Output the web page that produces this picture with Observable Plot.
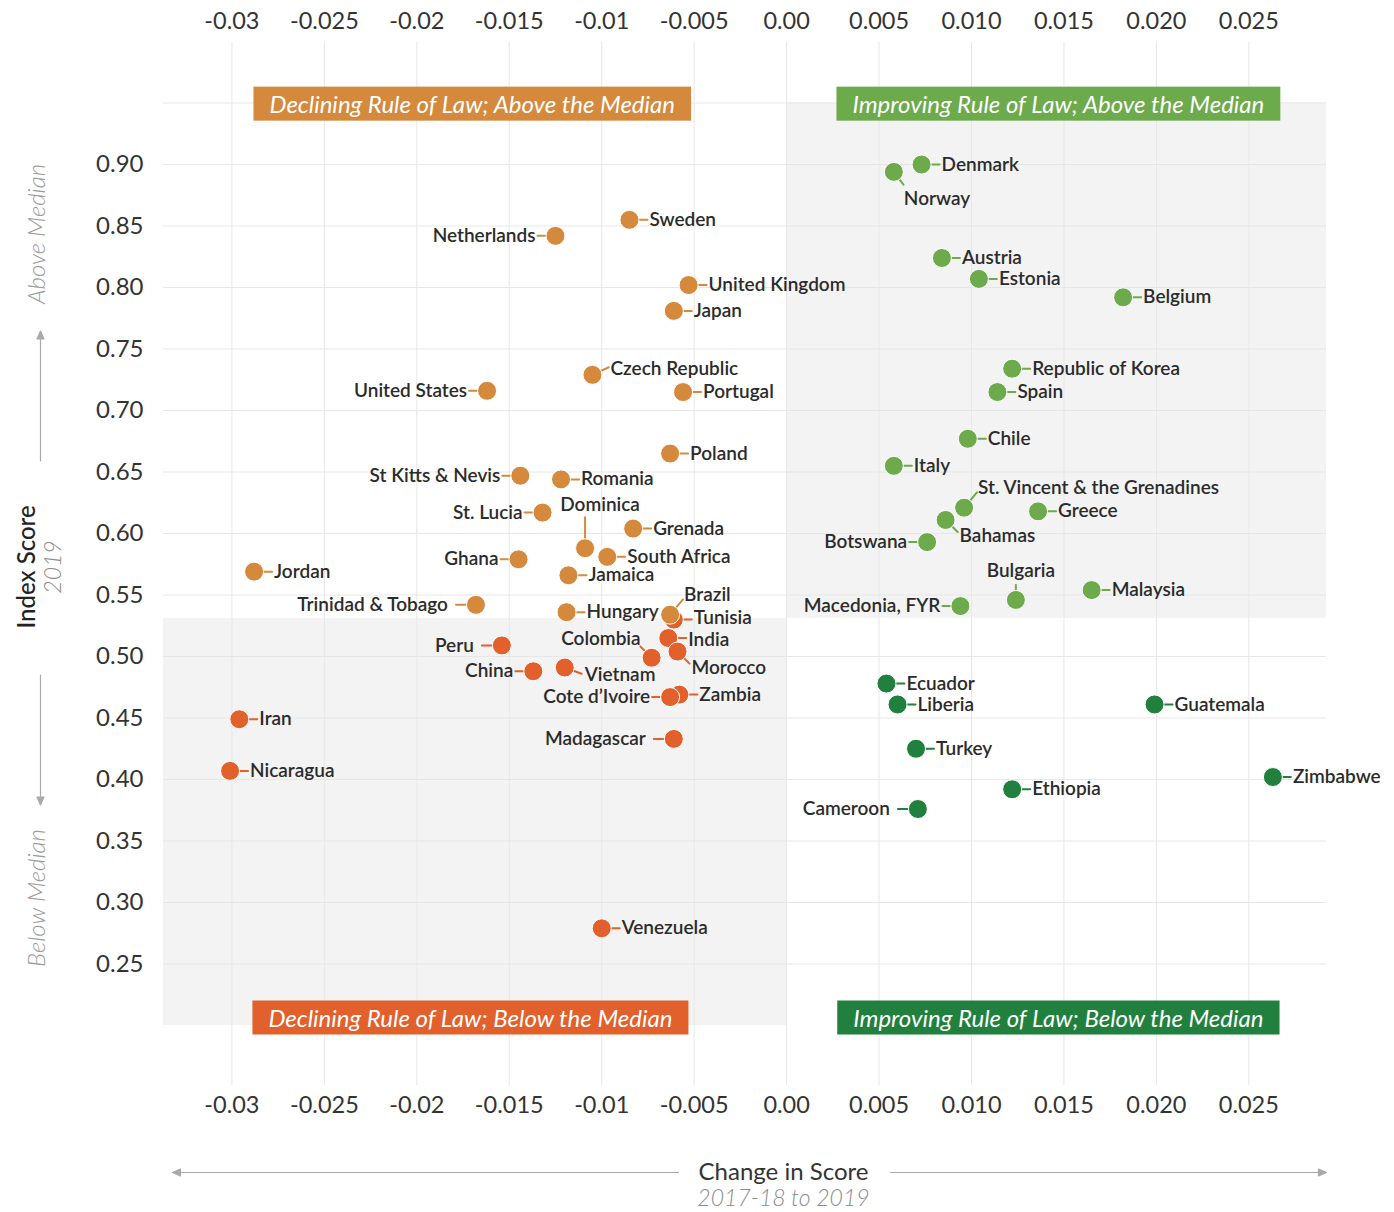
<!DOCTYPE html>
<html>
<head>
<meta charset="utf-8">
<script src="https://cdn.jsdelivr.net/npm/d3@7"></script>
<script src="https://cdn.jsdelivr.net/npm/@observablehq/plot@0.6"></script>
<style>
  body { margin: 0; background: #fff; font-family: Lato, sans-serif; }
</style>
</head>
<body>
<div id="chart"></div>
<script>
// ---------- Data ----------
const xTicks = [-0.03, -0.025, -0.02, -0.015, -0.01, -0.005, 0, 0.005, 0.01, 0.015, 0.02, 0.025];
const xTickLabels = ["-0.03", "-0.025", "-0.02", "-0.015", "-0.01", "-0.005", "0.00", "0.005", "0.010", "0.015", "0.020", "0.025"];
const yTicks = [0.25, 0.30, 0.35, 0.40, 0.45, 0.50, 0.55, 0.60, 0.65, 0.70, 0.75, 0.80, 0.85, 0.90];
const yTickLabels = ["0.25", "0.30", "0.35", "0.40", "0.45", "0.50", "0.55", "0.60", "0.65", "0.70", "0.75", "0.80", "0.85", "0.90"];
const yExtraGrid = [0.95];

const medianScore = 0.531;
const scoreTop = 0.95;
const scoreBottom = 0.20;
const xMin = -0.0337, xMax = 0.0292;
const yMin = 0.1512, yMax = 0.9992;

// [country, change in score, index score 2019]
const improvingBelow = [
  ["Ecuador", 0.0054, 0.478],
  ["Liberia", 0.0060, 0.461],
  ["Guatemala", 0.0199, 0.461],
  ["Turkey", 0.0070, 0.425],
  ["Zimbabwe", 0.0263, 0.402],
  ["Ethiopia", 0.0122, 0.392],
  ["Cameroon", 0.0071, 0.376]
];
const improvingAbove = [
  ["Denmark", 0.0073, 0.900],
  ["Norway", 0.0058, 0.894],
  ["Austria", 0.0084, 0.824],
  ["Estonia", 0.0104, 0.807],
  ["Belgium", 0.0182, 0.792],
  ["Republic of Korea", 0.0122, 0.734],
  ["Spain", 0.0114, 0.715],
  ["Chile", 0.0098, 0.677],
  ["Italy", 0.0058, 0.655],
  ["St. Vincent & the Grenadines", 0.0096, 0.621],
  ["Greece", 0.0136, 0.618],
  ["Bahamas", 0.0086, 0.611],
  ["Botswana", 0.0076, 0.593],
  ["Malaysia", 0.0165, 0.554],
  ["Bulgaria", 0.0124, 0.546],
  ["Macedonia, FYR", 0.0094, 0.541]
];
const decliningBelow = [
  ["Tunisia", -0.0061, 0.530],
  ["India", -0.0064, 0.515],
  ["Peru", -0.0154, 0.509],
  ["Morocco", -0.0059, 0.504],
  ["Colombia", -0.0073, 0.499],
  ["Vietnam", -0.0120, 0.491],
  ["China", -0.0137, 0.488],
  ["Zambia", -0.0058, 0.469],
  ["Cote d’Ivoire", -0.0063, 0.467],
  ["Iran", -0.0296, 0.449],
  ["Madagascar", -0.0061, 0.433],
  ["Nicaragua", -0.0301, 0.407],
  ["Venezuela", -0.0100, 0.279]
];
const decliningAbove = [
  ["Sweden", -0.0085, 0.855],
  ["Netherlands", -0.0125, 0.842],
  ["United Kingdom", -0.0053, 0.802],
  ["Japan", -0.0061, 0.781],
  ["Czech Republic", -0.0105, 0.729],
  ["United States", -0.0162, 0.716],
  ["Portugal", -0.0056, 0.715],
  ["Poland", -0.0063, 0.665],
  ["St Kitts & Nevis", -0.0144, 0.647],
  ["Romania", -0.0122, 0.644],
  ["St. Lucia", -0.0132, 0.617],
  ["Grenada", -0.0083, 0.604],
  ["Dominica", -0.0109, 0.588],
  ["South Africa", -0.0097, 0.581],
  ["Ghana", -0.0145, 0.579],
  ["Jordan", -0.0288, 0.569],
  ["Jamaica", -0.0118, 0.566],
  ["Trinidad & Tobago", -0.0168, 0.542],
  ["Hungary", -0.0119, 0.536],
  ["Brazil", -0.0063, 0.534]
];

const quadrants = ["Declining; Above", "Declining; Below", "Improving; Above", "Improving; Below"];
const quadrantColors = ["#D4893C", "#E2602B", "#6CAA4C", "#21803E"];

const bannerTexts = [
  "Declining Rule of Law; Above the Median",
  "Declining Rule of Law; Below the Median",
  "Improving Rule of Law; Above the Median",
  "Improving Rule of Law; Below the Median"
];
const bannerX = [-0.0170, -0.0171, 0.0147, 0.0147];
const bannerY = [0.948, 0.205, 0.948, 0.205];

// label placement (default: right of the dot)
const labelSide = {
  "Netherlands": "l", "United States": "l", "St Kitts & Nevis": "l", "St. Lucia": "l",
  "Ghana": "l", "China": "l", "Cote d’Ivoire": "l", "Botswana": "l", "Macedonia, FYR": "l",
  "Trinidad & Tobago": "lw", "Peru": "lw", "Madagascar": "lw", "Cameroon": "lw",
  "St. Vincent & the Grenadines": "tr", "Brazil": "tr", "Czech Republic": "tr2",
  "Bahamas": "br", "Morocco": "br", "Vietnam": "rb", "Norway": "b",
  "Bulgaria": "t", "Dominica": "tt", "Colombia": "tl", "Tunisia": "ru", "India": "rd"
};
const labelStyles = {
  r:   {dx: 20, dy: 0, anchor: "start", rotate: 90, length: 18},
  ru:  {dx: 20, dy: -2, anchor: "start", rotate: 90, length: 18},
  rd:  {dx: 20, dy: 2, anchor: "start", rotate: 90, length: 18},
  l:   {dx: -20, dy: 0, anchor: "end", rotate: -90, length: 18},
  lw:  {dx: -28, dy: 0, anchor: "end", rotate: -90, length: 20},
  tr:  {dx: 14, dy: -20, anchor: "start", rotate: 40, length: 20},
  tr2: {dx: 18, dy: -6, anchor: "start", rotate: 65, length: 18},
  br:  {dx: 14, dy: 16, anchor: "start", rotate: 135, length: 17},
  rb:  {dx: 20, dy: 7, anchor: "start", rotate: 110, length: 18},
  b:   {dx: 10, dy: 27, anchor: "start", rotate: 143, length: 16},
  t:   {dx: 5, dy: -29, anchor: "middle", rotate: 0, length: 15},
  tt:  {dx: 15, dy: -43, anchor: "middle", rotate: 0, length: 31},
  tl:  {dx: -11, dy: -19, anchor: "end", rotate: -45, length: 16}
};

// ---------- Build ----------
const toRows = (arr, q) => arr.map(([name, change, score]) => ({name, change, score, quadrant: q}));
const rows = [
  ...toRows(improvingBelow, quadrants[3]),
  ...toRows(improvingAbove, quadrants[2]),
  ...toRows(decliningBelow, quadrants[1]),
  ...toRows(decliningAbove, quadrants[0])
];
const sideOf = d => labelSide[d.name] ?? "r";
const xLabelMap = new Map(xTicks.map((t, i) => [t, xTickLabels[i]]));
const yLabelMap = new Map(yTicks.map((t, i) => [t, yTickLabels[i]]));
const banners = bannerTexts.map((text, i) => ({text, x: bannerX[i], y: bannerY[i], quadrant: quadrants[i]}));
const shaded = [
  {x1: 0, x2: xMax, y1: medianScore, y2: scoreTop},
  {x1: xMin, x2: 0, y1: scoreBottom, y2: medianScore}
];

const lineShape = { draw(ctx, l) { ctx.moveTo(0, 0); ctx.lineTo(0, -l); } };
const arrowShape = { draw(ctx, l) {
  ctx.moveTo(0, 0); ctx.lineTo(0, -l + 4);
  ctx.moveTo(0, -l); ctx.lineTo(-3.5, -l + 8); ctx.lineTo(3.5, -l + 8); ctx.closePath();
} };

const gridColor = "#e7e7e7";
const decoColor = "#a9a9a9";

const labelMarks = Object.entries(labelStyles).map(([k, s]) =>
  Plot.text(rows.filter(d => sideOf(d) === k), {
    x: "change", y: "score", text: "name",
    dx: s.dx, dy: s.dy, textAnchor: s.anchor,
    fontSize: 19, fontWeight: 600, fill: "#2b2b2b"
  })
);

const deco = (label, o) => Plot.text([label], {text: d => d, textAnchor: "middle", lineAnchor: "middle", ...o});

const chart = Plot.plot({
  width: 1394,
  height: 1212,
  marginLeft: 163,
  marginRight: 68,
  marginTop: 42,
  marginBottom: 127,
  style: {fontFamily: "Lato, sans-serif", fontSize: "24px", color: "#333", background: "#fff"},
  x: {domain: [xMin, xMax], label: null},
  y: {domain: [yMin, yMax], label: null},
  color: {domain: quadrants, range: quadrantColors},
  length: {type: "identity"},
  marks: [
    Plot.rect(shaded, {x1: "x1", x2: "x2", y1: "y1", y2: "y2", fill: "#f3f3f3"}),
    Plot.ruleX(xTicks, {stroke: gridColor, strokeWidth: 1}),
    Plot.ruleY([...yTicks, ...yExtraGrid], {stroke: gridColor, strokeWidth: 1}),
    Plot.axisX(xTicks, {anchor: "top", tickSize: 0, tickPadding: 14, tickFormat: d => xLabelMap.get(d), fontSize: 23.5, color: "#333"}),
    Plot.axisX(xTicks, {anchor: "bottom", tickSize: 0, tickPadding: 11, tickFormat: d => xLabelMap.get(d), fontSize: 23.5, color: "#333"}),
    Plot.axisY(yTicks, {anchor: "left", tickSize: 0, tickPadding: 20, tickFormat: d => yLabelMap.get(d), fontSize: 24, color: "#333"}),
    Plot.text(banners, {x: "x", y: "y", text: "text", fill: "white", fontStyle: "italic", fontSize: 24}),
    Plot.vector(rows, {
      x: "change", y: "score",
      rotate: d => labelStyles[sideOf(d)].rotate,
      length: d => labelStyles[sideOf(d)].length,
      anchor: "start", stroke: "quadrant", strokeWidth: 2, shape: lineShape
    }),
    Plot.dot(rows, {x: "change", y: "score", r: 9.5, fill: "quadrant", stroke: "white", strokeWidth: 1}),
    ...labelMarks,
    // axis titles & decorations
    deco("Index Score", {frameAnchor: "left", rotate: -90, dx: -136, dy: 3, fontSize: 24, fontWeight: 500, fill: "#222"}),
    deco("2019", {frameAnchor: "left", rotate: -90, dx: -110, dy: 3, fontSize: 23, fontStyle: "italic", fontWeight: 300, fill: "#8c8c8c"}),
    deco("Above Median", {frameAnchor: "left", rotate: -90, dx: -126, dy: -330, fontSize: 24, fontStyle: "italic", fontWeight: 300, fill: "#9a9a9a"}),
    deco("Below Median", {frameAnchor: "left", rotate: -90, dx: -126, dy: 334, fontSize: 24, fontStyle: "italic", fontWeight: 300, fill: "#9a9a9a"}),
    Plot.vector([0], {frameAnchor: "left", dx: -123, dy: -103, length: 130, rotate: 0, anchor: "start", shape: arrowShape, stroke: decoColor, fill: decoColor, strokeWidth: 1.2}),
    Plot.vector([0], {frameAnchor: "left", dx: -123, dy: 111, length: 130, rotate: 180, anchor: "start", shape: arrowShape, stroke: decoColor, fill: decoColor, strokeWidth: 1.2}),
    deco("Change in Score", {frameAnchor: "bottom", dx: 38.5, dy: 87, fontSize: 24, fontWeight: 400, fill: "#333"}),
    deco("2017-18 to 2019", {frameAnchor: "bottom", dx: 38.5, dy: 113, fontSize: 23, fontStyle: "italic", fontWeight: 300, fill: "#8c8c8c"}),
    Plot.vector([0], {frameAnchor: "bottom", dx: -66.5, dy: 87, length: 506, rotate: -90, anchor: "start", shape: arrowShape, stroke: decoColor, fill: decoColor, strokeWidth: 1.2}),
    Plot.vector([0], {frameAnchor: "bottom", dx: 145.5, dy: 87, length: 436, rotate: 90, anchor: "start", shape: arrowShape, stroke: decoColor, fill: decoColor, strokeWidth: 1.2})
  ]
});

document.getElementById("chart").appendChild(chart);

// banner backgrounds sized to their text
const ns = "http://www.w3.org/2000/svg";
chart.querySelectorAll("text").forEach(t => {
  const i = bannerTexts.indexOf(t.textContent);
  if (i < 0) return;
  const b = t.getBBox();
  const r = document.createElementNS(ns, "rect");
  r.setAttribute("x", b.x - 16);
  r.setAttribute("y", b.y + b.height / 2 - 17);
  r.setAttribute("width", b.width + 32);
  r.setAttribute("height", 34);
  r.setAttribute("fill", quadrantColors[i]);
  const tr = t.getAttribute("transform");
  if (tr) r.setAttribute("transform", tr);
  t.parentNode.insertBefore(r, t);
});
</script>
</body>
</html>
